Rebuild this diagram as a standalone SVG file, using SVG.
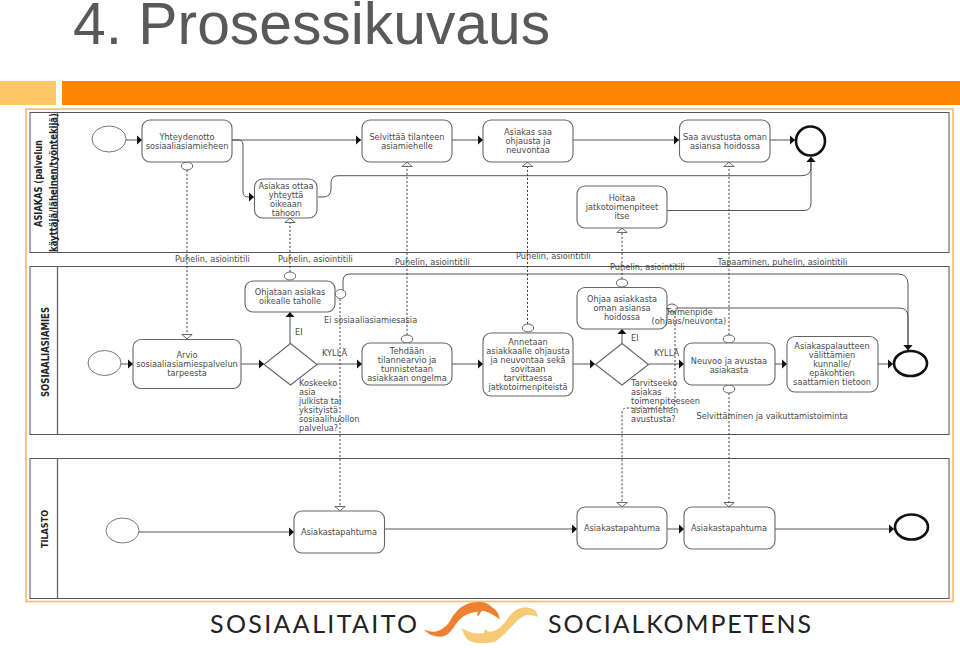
<svg xmlns="http://www.w3.org/2000/svg" width="960" height="648" viewBox="0 0 960 648">
<style>
.t{font-family:"DejaVu Sans",sans-serif;font-size:8.2px;fill:#4a4a4a;text-anchor:middle}
.l{font-family:"DejaVu Sans",sans-serif;font-size:8.2px;fill:#4a4a4a}
.v{font-family:"DejaVu Sans",sans-serif;font-weight:bold;fill:#222;text-anchor:middle}
.n{fill:#fff;stroke:#666;stroke-width:1.1}
.e{fill:#fff;stroke:#666;stroke-width:.9}
.end{fill:#fff;stroke:#111;stroke-width:2.6}
.f{fill:none;stroke:#555;stroke-width:1;marker-end:url(#a)}
.d{fill:none;stroke:#333;stroke-width:.9;stroke-dasharray:2.2 1.8}
.dm{marker-end:url(#o)}
.c{fill:#fff;stroke:#555;stroke-width:.9}
.lane{fill:#fff;stroke:#555;stroke-width:1}
.sep{stroke:#666;stroke-width:1.3}
.logo{font-family:"Lato","Liberation Sans",sans-serif;font-size:25px;fill:#222}
</style>
<defs>
<marker id="a" markerUnits="userSpaceOnUse" markerWidth="6" markerHeight="10" refX="5" refY="5" orient="auto"><path d="M0 .5L5 5L0 9.500Z" fill="#111"/></marker>
<marker id="o" markerUnits="userSpaceOnUse" markerWidth="6" markerHeight="12" refX="5" refY="6" orient="auto"><path d="M.5 .8L4.800 6L.5 11.200Z" fill="#fff" stroke="#444" stroke-width=".8"/></marker>
</defs>
<rect width="960" height="648" fill="#fff"/>
<text x="73" y="44" font-family="Liberation Sans,sans-serif" font-size="58.800" fill="#595959">4. Prosessikuvaus</text>
<rect x="0" y="81" width="56" height="24" fill="#fec767"/>
<rect x="62" y="81" width="898" height="24" fill="#fe8404"/>
<rect x="26" y="109" width="927" height="492.500" fill="#fff" stroke="#f2c27c" stroke-width="1.800"/>

<g id="lanes">
<rect class="lane" x="30" y="112.500" width="919" height="140"/><line class="sep" x1="57.500" y1="112.500" x2="57.500" y2="252.500"/>
<rect class="lane" x="30" y="266.500" width="919" height="168"/><line class="sep" x1="57.500" y1="266.500" x2="57.500" y2="434.500"/>
<rect class="lane" x="30" y="458.500" width="919" height="140"/><line class="sep" x1="57.500" y1="458.500" x2="57.500" y2="598.500"/>
<text class="v" font-size="10" textLength="87" lengthAdjust="spacingAndGlyphs" transform="translate(42 183.500) rotate(-90)">ASIAKAS (palvelun</text>
<text class="v" font-size="10" textLength="139" lengthAdjust="spacingAndGlyphs" transform="translate(56.500 182.500) rotate(-90)">käyttäjä/läheinen/työntekijä)</text>
<text class="v" font-size="10" textLength="90" lengthAdjust="spacingAndGlyphs" transform="translate(49 352) rotate(-90)">SOSIAALIASIAMIES</text>
<text class="v" font-size="9.500" textLength="38" lengthAdjust="spacingAndGlyphs" transform="translate(48 529) rotate(-90)">TILASTO</text>
</g>

<g id="connectors">
<path class="f" d="M126 140H142"/>
<path class="f" d="M232 140H361"/>
<path class="f" d="M232 140H238Q243 140 243 145V192Q243 197 248 197H254"/>
<path class="f" d="M452 140H483"/>
<path class="f" d="M573 140H679"/>
<path class="f" d="M770 140H795"/>
<path class="f" d="M318 197H323Q331 197 331 189V183Q331 175.700 338 175.700H801Q811 175.700 811 168V157"/>
<path class="f" d="M667 210.500H804Q811 210.500 811 203V157"/>
<path class="f" d="M121 364H133"/>
<path class="f" d="M241 364H264"/>
<path class="f" d="M290 344V312"/>
<path class="f" d="M317 364H362"/>
<path class="f" d="M452 364H483"/>
<path class="f" d="M573 364H595"/>
<path class="f" d="M622 344V329"/>
<path class="f" d="M649 364H684"/>
<path class="f" d="M775 364H787"/>
<path class="f" d="M878 364H893"/>
<path class="f" d="M139 532H294"/>
<path class="f" d="M385 529H577"/>
<path class="f" d="M667 529H684"/>
<path class="f" d="M775 529H894"/>
<path class="f" d="M343 290V281Q343 274 350 274H898Q908 274 908 284V350"/>
<path class="f" d="M677 308H899Q908 308 908 317V350"/>
<path class="d dm" d="M187 170V339"/>
<path class="d dm" d="M290 272V218"/>
<path class="d dm" d="M407 335V162"/>
<path class="d dm" d="M527.500 324V162"/>
<path class="d dm" d="M622 279V228"/>
<path class="d dm" d="M729 335V162"/>
<path class="d dm" d="M340 299V511"/>
<path class="d dm" d="M729 393V507"/>
<path class="d dm" d="M675 312V403Q675 408 670 408H627Q622 408 622 413V507"/>
</g>

<g id="markers">
<ellipse class="c" cx="187" cy="166" rx="5.700" ry="4"/>
<ellipse class="c" cx="290" cy="276" rx="5.700" ry="4"/>
<ellipse class="c" cx="340.500" cy="294" rx="5.300" ry="4.500"/>
<ellipse class="c" cx="407" cy="339" rx="5.700" ry="4"/>
<ellipse class="c" cx="528" cy="328" rx="5.700" ry="4"/>
<ellipse class="c" cx="622" cy="283" rx="5.700" ry="4"/>
<ellipse class="c" cx="672" cy="308" rx="5.300" ry="4"/>
<ellipse class="c" cx="729" cy="339" rx="5.700" ry="4"/>
<ellipse class="c" cx="729" cy="389" rx="5.700" ry="4"/>
</g>

<g id="start1"><ellipse class="e" cx="109" cy="139" rx="17" ry="13"/></g>
<g id="end1"><ellipse class="end" cx="810.500" cy="141" rx="14.500" ry="14.500"/></g>
<g id="n1"><rect class="n" x="142" y="120" width="90" height="42" rx="8"/><text class="t" x="187" y="139.500">Yhteydenotto</text><text class="t" x="187" y="148.500">sosiaaliasiamieheen</text></g>
<g id="n2"><rect class="n" x="254.500" y="179" width="62.500" height="39" rx="8"/><text class="t" x="286" y="188.500">Asiakas ottaa</text><text class="t" x="286" y="197.500">yhteyttä</text><text class="t" x="286" y="206.500">oikeaan</text><text class="t" x="286" y="215.500">tahoon</text></g>
<g id="n3"><rect class="n" x="362" y="120" width="90" height="42" rx="8"/><text class="t" x="407" y="139.500">Selvittää tilanteen</text><text class="t" x="407" y="148.500">asiamiehelle</text></g>
<g id="n4"><rect class="n" x="483" y="120" width="90" height="42" rx="8"/><text class="t" x="528" y="134.500">Asiakas saa</text><text class="t" x="528" y="143.500">ohjausta ja</text><text class="t" x="528" y="152.500">neuvontaa</text></g>
<g id="n5"><rect class="n" x="679.500" y="120" width="90.500" height="42" rx="8"/><text class="t" x="725" y="139.500">Saa avustusta oman</text><text class="t" x="725" y="148.500">asiansa hoidossa</text></g>
<g id="n6"><rect class="n" x="577" y="186" width="90" height="42" rx="8"/><text class="t" x="622" y="201">Hoitaa</text><text class="t" x="622" y="210">jatkotoimenpiteet</text><text class="t" x="622" y="219">itse</text></g>

<g id="start2"><ellipse class="e" cx="104.500" cy="363" rx="16.500" ry="12.500"/></g>
<g id="end2"><ellipse class="end" cx="910.500" cy="363.500" rx="16.500" ry="12.500"/></g>
<g id="n7"><rect class="n" x="133" y="339.500" width="108" height="49" rx="8"/><text class="t" x="187" y="358">Arvio</text><text class="t" x="187" y="367">sosiaaliasiamiespalvelun</text><text class="t" x="187" y="376">tarpeesta</text></g>
<g id="n8"><rect class="n" x="245" y="281" width="90" height="31" rx="8"/><text class="t" x="290" y="294.500">Ohjataan asiakas</text><text class="t" x="290" y="304">oikealle taholle</text></g>
<g id="g1"><path class="n" d="M290.500 343.500L317 364.500L290.500 385L264 364.500Z"/></g>
<g id="n9"><rect class="n" x="362" y="343" width="90" height="42" rx="8"/><text class="t" x="407" y="354">Tehdään</text><text class="t" x="407" y="363">tilannearvio ja</text><text class="t" x="407" y="372">tunnistetaan</text><text class="t" x="407" y="381">asiakkaan ongelma</text></g>
<g id="n10"><rect class="n" x="483" y="333" width="90" height="63" rx="8"/><text class="t" x="528" y="345">Annetaan</text><text class="t" x="528" y="354">asiakkaalle ohjausta</text><text class="t" x="528" y="363">ja neuvontaa sekä</text><text class="t" x="528" y="372">sovitaan</text><text class="t" x="528" y="381">tarvittaessa</text><text class="t" x="528" y="390">jatkotoimenpiteistä</text></g>
<g id="n11"><rect class="n" x="577" y="287.500" width="90" height="41.500" rx="8"/><text class="t" x="622" y="302">Ohjaa asiakkasta</text><text class="t" x="622" y="311">oman asiansa</text><text class="t" x="622" y="320">hoidossa</text></g>
<g id="g2"><path class="n" d="M622 343.500L648.500 364.500L622 385L595.500 364.500Z"/></g>
<g id="n12"><rect class="n" x="684" y="343" width="91" height="42" rx="8"/><text class="t" x="729" y="364">Neuvoo ja avustaa</text><text class="t" x="729" y="373">asiakasta</text></g>
<g id="n13"><rect class="n" x="787" y="336.500" width="91" height="55.500" rx="8"/><text class="t" x="832" y="349">Asiakaspalautteen</text><text class="t" x="832" y="358">välittämien</text><text class="t" x="832" y="367">kunnalle/</text><text class="t" x="832" y="376">epäkohtien</text><text class="t" x="832" y="385">saattamien tietoon</text></g>

<g id="start3"><ellipse class="e" cx="122.500" cy="530.500" rx="16.500" ry="12.500"/></g>
<g id="end3"><ellipse class="end" cx="911.500" cy="527" rx="16.500" ry="12.500"/></g>
<g id="n14"><rect class="n" x="294" y="511" width="90.500" height="42" rx="8"/><text class="t" x="339" y="535">Asiakastapahtuma</text></g>
<g id="n15"><rect class="n" x="577" y="507" width="90" height="42" rx="8"/><text class="t" x="622" y="531">Asiakastapahtuma</text></g>
<g id="n16"><rect class="n" x="684" y="507" width="91" height="42" rx="8"/><text class="t" x="729" y="531">Asiakastapahtuma</text></g>

<g id="labels">
<text class="l" x="175" y="262">Puhelin, asiointitili</text>
<text class="l" x="278" y="261.500">Puhelin, asiointitili</text>
<text class="l" x="395" y="265">Puhelin, asiointitili</text>
<text class="l" x="516" y="259">Puhelin, asiointitili</text>
<text class="l" x="610" y="270">Puhelin, asiointitili</text>
<text class="l" x="717.500" y="265">Tapaaminen, puhelin, asiointitili</text>
<text class="l" x="324" y="323">Ei sosiaaliasiamiesasia</text>
<text class="l" x="295" y="335">EI</text>
<text class="l" x="322" y="356">KYLLÄ</text>
<text class="l" x="299" y="386">Koskeeko</text>
<text class="l" x="299" y="395">asia</text>
<text class="l" x="299" y="404">julkista tai</text>
<text class="l" x="299" y="413">yksityistä</text>
<text class="l" x="299" y="422">sosiaalihuollon</text>
<text class="l" x="299" y="431">palvelua?</text>
<text class="l" x="631" y="341">EI</text>
<text class="l" x="654" y="356">KYLLÄ</text>
<text class="l" x="631" y="386">Tarvitseeko</text>
<text class="l" x="631" y="395">asiakas</text>
<text class="l" x="631" y="404">toimenpiteeseen</text>
<text class="l" x="631" y="413">asiamiehen</text>
<text class="l" x="631" y="422">avustusta?</text>
<text class="l" x="666" y="315">Toimenpide</text>
<text class="l" x="651.500" y="324">(ohjaus/neuvonta)</text>
<text class="l" x="696.500" y="419">Selvittäminen ja vaikuttamistoiminta</text>
</g>

<g id="logo">
<text class="logo" x="210" y="633" textLength="207" lengthAdjust="spacing">SOSIAALITAITO</text>
<path d="M424 629.300C427 634 434 637 441.700 636.700C447 636 450 632 453 628.500C457 622 462 616 468 614C472 612.500 475 612 478 611.700C477.500 613 477 615 478 616.700C480 613.500 481 611 483 610.800C489 612 495 616 500 619.500C499 614 496 609.500 493 608C489 604 485 602 481.700 602C477 602 473 602 470 603C465 604.500 461 607 458 610C455 613 453 615.500 451.700 618C449.500 622 447.500 625 445 626.700C441 630 437 631.700 433 631.700C430 631.700 427 630.500 424 629.300Z" fill="#ee8030"/>
<path d="M461.700 628C463 633 465 637 468 640C472 642.500 477 643.500 481.700 643C487 643 491 642.500 495 641.700C499 639 503 635.500 506.700 631.700C510 628 514 624 518 620C521 617.500 524 615.500 526.700 615C530 614.800 534 615.500 538 616.700C537 613.500 536 611.500 535 610C532 608.500 528 607.500 525 607.300C521 607.500 518 609 515 610.700C512 613 509 616.500 506.700 620C504 624 501 627 498 629C495.500 630.500 492.500 631.700 490 631.700C488 631.500 486 630.500 485 629C484.500 630.500 484.300 632 484 633C480 633.500 476 633.500 473 633C469 632 465 630 461.700 628Z" fill="#f7cb76"/>
<text class="logo" x="548" y="633" textLength="263" lengthAdjust="spacing">SOCIALKOMPETENS</text>
</g>
</svg>
